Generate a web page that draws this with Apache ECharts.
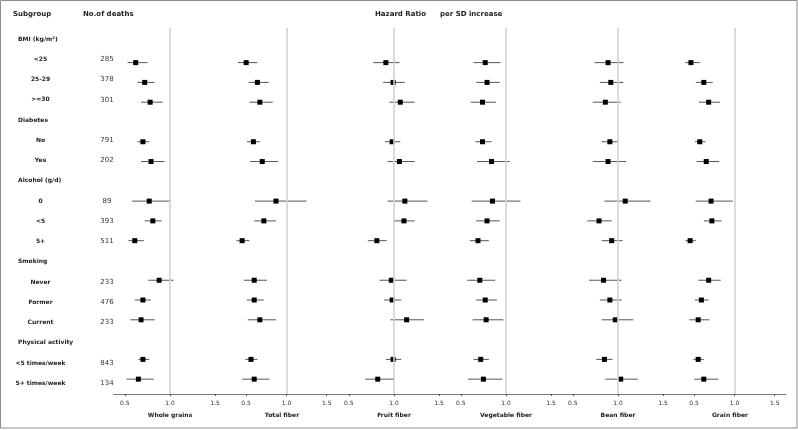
<!DOCTYPE html>
<html>
<head>
<meta charset="utf-8">
<script src="https://cdn.jsdelivr.net/npm/echarts@6/dist/echarts.min.js"></script>
<style>
html,body{margin:0;padding:0;background:#fff;}
#chart{width:798px;height:430px;}
</style>
</head>
<body>
<div id="chart"></div>
<script>
// ---------- data ----------
const subgroups = ['BMI (kg/m²)', '<25', '25-29', '>=30', 'Diabetes', 'No', 'Yes', 'Alcohol (g/d)', '0', '<5', '5+', 'Smoking', 'Never', 'Former', 'Current', 'Physical activity', '<5 times/week', '5+ times/week'];
const isHeader = [true, false, false, false, true, false, false, true, false, false, false, true, false, false, false, true, false, false];
const deaths = [null, 285, 378, 301, null, 791, 202, null, 89, 393, 511, null, 233, 476, 233, null, 843, 134];
const exposures = ['Whole grains', 'Total fiber', 'Fruit fiber', 'Vegetable fiber', 'Bean fiber', 'Grain fiber'];
const tickValues = [0.5, 1.0, 1.5];

const wholeGrainsHR = [0.62, 0.72, 0.78, 0.70, 0.79, 0.77, 0.81, 0.61, 0.88, 0.70, 0.68, 0.70, 0.65];
const wholeGrainsLo = [0.53, 0.64, 0.68, 0.64, 0.68, 0.58, 0.72, 0.54, 0.76, 0.61, 0.56, 0.65, 0.52];
const wholeGrainsHi = [0.75, 0.83, 0.92, 0.77, 0.94, 1.01, 0.91, 0.71, 1.04, 0.79, 0.83, 0.77, 0.82];

const totalFiberHR = [0.50, 0.64, 0.67, 0.59, 0.70, 0.87, 0.72, 0.45, 0.60, 0.60, 0.67, 0.56, 0.60];
const totalFiberLo = [0.40, 0.53, 0.54, 0.51, 0.55, 0.61, 0.60, 0.38, 0.47, 0.51, 0.52, 0.49, 0.45];
const totalFiberHi = [0.64, 0.78, 0.83, 0.67, 0.90, 1.25, 0.87, 0.54, 0.76, 0.72, 0.87, 0.64, 0.79];

const fruitFiberHR = [0.91, 0.99, 1.07, 0.98, 1.06, 1.12, 1.11, 0.81, 0.97, 0.98, 1.14, 0.99, 0.82];
const fruitFiberLo = [0.77, 0.88, 0.95, 0.90, 0.93, 0.93, 1.00, 0.71, 0.84, 0.89, 0.96, 0.91, 0.68];
const fruitFiberHi = [1.06, 1.12, 1.23, 1.07, 1.23, 1.37, 1.23, 0.92, 1.14, 1.08, 1.33, 1.08, 1.00];

const vegFiberHR = [0.77, 0.79, 0.74, 0.74, 0.84, 0.85, 0.79, 0.69, 0.71, 0.77, 0.78, 0.72, 0.75];
const vegFiberLo = [0.64, 0.67, 0.61, 0.66, 0.68, 0.62, 0.67, 0.60, 0.57, 0.67, 0.63, 0.64, 0.58];
const vegFiberHi = [0.94, 0.93, 0.89, 0.84, 1.04, 1.16, 0.93, 0.81, 0.88, 0.90, 0.97, 0.81, 0.96];

const beanFiberHR = [0.89, 0.92, 0.86, 0.91, 0.89, 1.08, 0.79, 0.93, 0.84, 0.91, 0.97, 0.85, 1.03];
const beanFiberLo = [0.74, 0.80, 0.72, 0.82, 0.72, 0.85, 0.66, 0.82, 0.68, 0.80, 0.82, 0.76, 0.86];
const beanFiberHi = [1.06, 1.06, 1.03, 1.00, 1.09, 1.36, 0.93, 1.05, 1.04, 1.04, 1.17, 0.94, 1.22];

const grainFiberHR = [0.46, 0.62, 0.68, 0.57, 0.65, 0.71, 0.72, 0.45, 0.68, 0.59, 0.55, 0.55, 0.62];
const grainFiberLo = [0.39, 0.52, 0.56, 0.51, 0.53, 0.52, 0.62, 0.39, 0.55, 0.51, 0.44, 0.49, 0.50];
const grainFiberHi = [0.57, 0.73, 0.82, 0.64, 0.81, 0.98, 0.84, 0.52, 0.83, 0.68, 0.69, 0.62, 0.80];

const axisRanges = [[0.38, 1.62], [0.25, 1.64], [0.38, 1.62], [0.38, 1.62], [0.38, 1.62], [0.25, 1.64]];

// ---------- build ----------
const panelData = [
  [wholeGrainsHR, wholeGrainsLo, wholeGrainsHi],
  [totalFiberHR, totalFiberLo, totalFiberHi],
  [fruitFiberHR, fruitFiberLo, fruitFiberHi],
  [vegFiberHR, vegFiberLo, vegFiberHi],
  [beanFiberHR, beanFiberLo, beanFiberHi],
  [grainFiberHR, grainFiberLo, grainFiberHi]
];
const itemRows = [];
isHeader.forEach((h, i) => { if (!h) itemRows.push(i); });

const FONT = 'DejaVu Sans';
const panelLeft = 114, panelW = 112, gridTop = 28, gridBottom = 36;

const grids = [], xAxes = [], yAxes = [], series = [];

// label grid (subgroup names + deaths)
grids.push({ left: 18, top: 28.9, width: 89, height: 364.5 });
xAxes.push({ gridIndex: 0, type: 'value', show: false, min: 0, max: 1 });
yAxes.push({
  gridIndex: 0, type: 'category', inverse: true, data: subgroups, position: 'left',
  axisLine: { show: false }, axisTick: { show: false },
  axisLabel: {
    align: 'left', margin: 0, fontFamily: FONT, fontSize: 6, fontWeight: 'bold', color: '#222',
    formatter: (v, i) => isHeader[i] ? '{h|' + v + '}' : '{s|' + v + '}',
    rich: {
      h: { fontFamily: FONT, fontSize: 6, fontWeight: 'bold', color: '#222' },
      s: { fontFamily: FONT, fontSize: 6, fontWeight: 'bold', color: '#222', width: 45, align: 'center' }
    }
  }
});
yAxes.push({
  gridIndex: 0, type: 'category', inverse: true, data: deaths.map(d => d === null ? '' : String(d)), position: 'right',
  axisLine: { show: false }, axisTick: { show: false },
  axisLabel: { align: 'center', margin: 0, fontFamily: FONT, fontSize: 7, color: '#333' }
});

exposures.forEach((name, k) => {
  const gi = k + 1;
  grids.push({ left: panelLeft + k * panelW, width: panelW, top: gridTop, bottom: gridBottom });
  xAxes.push({
    gridIndex: gi, type: 'value', min: axisRanges[k][0], max: axisRanges[k][1], position: 'bottom',
    name: name, nameLocation: 'middle', nameGap: 18,
    nameTextStyle: { fontFamily: FONT, fontSize: 6, fontWeight: 'bold', color: '#222' },
    splitLine: { show: false },
    axisLine: { show: true, onZero: false, lineStyle: { color: '#777', width: 1 } },
    axisTick: { show: true, length: 2, customValues: tickValues, lineStyle: { color: '#555' } },
    axisLabel: { customValues: tickValues, margin: 6, fontFamily: FONT, fontSize: 6, color: '#333',
      formatter: v => Number(v).toFixed(1) }
  });
  yAxes.push({ gridIndex: gi, type: 'value', inverse: true, min: -0.75, max: 17.75, show: false });
  const [hr, lo, hi] = panelData[k];
  const data = itemRows.map((r, j) => [r, hr[j], lo[j], hi[j]]);
  series.push({
    type: 'custom', xAxisIndex: gi, yAxisIndex: gi + 1, silent: true,
    encode: { x: [1, 2, 3], y: 0 },
    data: data,
    renderItem: (params, api) => {
      const y = api.value(0);
      const p = api.coord([api.value(1), y]);
      const a = api.coord([api.value(2), y]);
      const b = api.coord([api.value(3), y]);
      const s = 5;
      return {
        type: 'group',
        children: [
          { type: 'line', shape: { x1: a[0], y1: a[1], x2: b[0], y2: b[1] }, style: { stroke: '#555', lineWidth: 1 } },
          { type: 'rect', shape: { x: p[0] - s / 2, y: p[1] - s / 2, width: s, height: s }, style: { fill: '#000' } }
        ]
      };
    },
    markLine: {
      silent: true, symbol: 'none', label: { show: false },
      lineStyle: { color: '#d2d2d2', width: 1.6, type: 'solid' },
      data: [{ xAxis: 1 }]
    },
    z: 3
  });
});

const titleStyle = { fontFamily: FONT, fontSize: 7, fontWeight: 'bold', color: '#222' };
const chart = echarts.init(document.getElementById('chart'), null, { renderer: 'canvas' });
chart.setOption({
  backgroundColor: '#fff',
  animation: false,
  title: [
    { text: 'Subgroup', left: 13, top: 11, padding: 0, textStyle: titleStyle },
    { text: 'No.of deaths', left: 83, top: 11, padding: 0, textStyle: titleStyle },
    { text: 'Hazard Ratio', left: 375, top: 11, padding: 0, textStyle: titleStyle },
    { text: 'per SD increase', left: 440, top: 11, padding: 0, textStyle: titleStyle }
  ],
  graphic: [{
    type: 'rect', shape: { x: 0.5, y: 0.5, width: 796.5, height: 427.5 },
    style: { fill: 'none', stroke: '#8c8c8c', lineWidth: 1 }, silent: true
  }],
  grid: grids, xAxis: xAxes, yAxis: yAxes, series: series
});
</script>
</body>
</html>
